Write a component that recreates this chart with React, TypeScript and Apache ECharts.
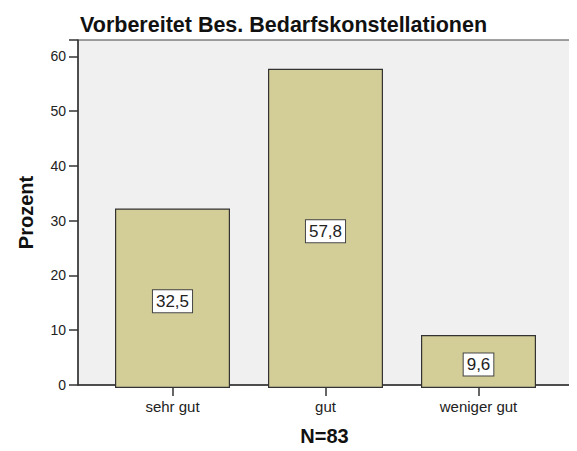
import React, { useEffect, useRef } from "react";
import * as echarts from "echarts";

const categories = ["sehr gut", "gut", "weniger gut"];
const values = [32.5, 57.8, 9.6];
const yTicks = [0, 10, 20, 30, 40, 50, 60];

export default function App() {
  const ref = useRef<HTMLDivElement>(null);
  useEffect(() => {
    const chart = echarts.init(ref.current!, null, { renderer: "svg" });
    const font = "Arial, 'Liberation Sans', sans-serif";
    chart.setOption({
      animation: false,
      title: {
        text: "Vorbereitet Bes. Bedarfskonstellationen",
        left: 67,
        top: 1,
        textStyle: { fontFamily: font, fontSize: 21.5, fontWeight: "bold", color: "#111" },
      },
      grid: [
        {
          left: 62, right: 6, top: 32, bottom: 63,
          show: true, backgroundColor: "#f0f0f0", borderColor: "#444", borderWidth: 1,
        },
        { left: 88, right: 22, top: 32, bottom: 63 },
      ],
      xAxis: [
        {
          gridIndex: 0, type: "value", min: 0, max: 1,
          axisLine: { show: true, lineStyle: { color: "#333", width: 1.5 } },
          axisTick: { show: false }, axisLabel: { show: false }, splitLine: { show: false },
          name: "N=83", nameLocation: "middle", nameGap: 41,
          nameTextStyle: { fontFamily: font, fontSize: 20, fontWeight: "bold", color: "#111" },
        },
        {
          gridIndex: 1, type: "category", data: categories,
          axisLine: { show: false },
          axisTick: { show: true, alignWithLabel: true, length: 8, lineStyle: { color: "#333", width: 1.5 } },
          axisLabel: { fontFamily: font, fontSize: 15, color: "#222", margin: 11 },
        },
      ],
      yAxis: [
        {
          gridIndex: 0, type: "value", min: 0, max: 63, interval: 10,
          axisLine: { show: true, lineStyle: { color: "#333", width: 1.5 } },
          axisTick: { show: true, length: 9, lineStyle: { color: "#333", width: 1.5 } },
          axisLabel: {
            fontFamily: font, fontSize: 14, color: "#222", margin: 12,
            formatter: (v: number) => (yTicks.includes(v) ? String(v) : ""),
          },
          splitLine: { show: false },
          name: "Prozent", nameLocation: "middle", nameGap: 42,
          nameTextStyle: { fontFamily: font, fontSize: 20, fontWeight: "bold", color: "#111" },
        },
        {
          gridIndex: 1, type: "value", min: 0, max: 63, show: false,
        },
      ],
      series: [
        {
          type: "bar",
          xAxisIndex: 1, yAxisIndex: 1,
          data: values,
          barWidth: 115,
          itemStyle: { color: "#d3ce97", borderColor: "#333", borderWidth: 1.2 },
          label: {
            show: true, position: "inside", offset: [0, 3],
            formatter: (p: any) => String(p.value).replace(".", ","),
            fontFamily: font, fontSize: 17, color: "#222",
            backgroundColor: "#fff", borderColor: "#444", borderWidth: 1,
            padding: [3, 3, 2, 3],
          },
        },
      ],
    });
    return () => chart.dispose();
  }, []);
  return <div ref={ref} style={{ width: 569, height: 443 }} />;
}
